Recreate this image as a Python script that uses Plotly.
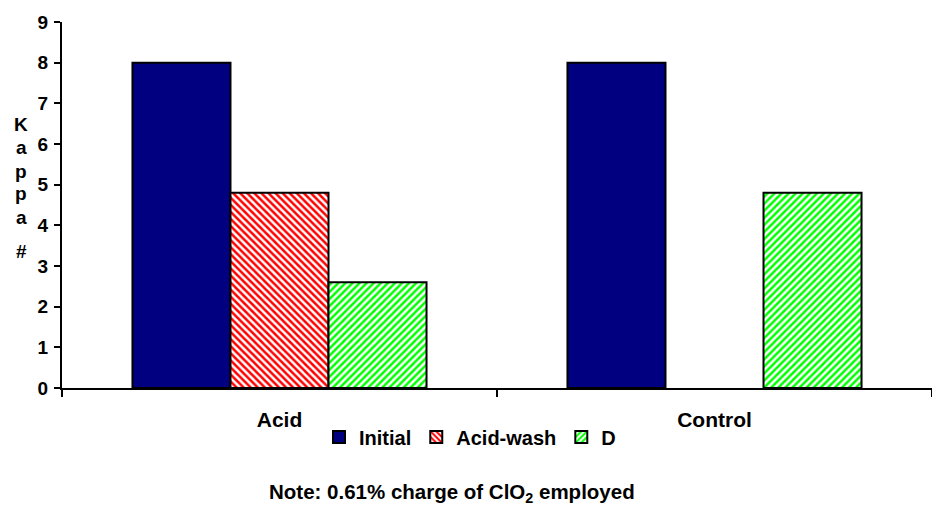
import plotly.graph_objects as go

# Kappa number by treatment
categories = ["Acid", "Control"]
initial = [8.0, 8.0]
acid_wash = [4.8, None]
d_stage = [2.6, 4.8]

y_ticks = list(range(0, 10))
axis_letters = ["K", "a", "p", "p", "a", "#"]
letter_y = [6.48, 5.92, 5.33, 4.79, 4.20, 3.36]

FONT = "Arial, Liberation Sans, sans-serif"


def bold(size):
    return dict(family=FONT, size=size, color="black", weight="bold")


fig = go.Figure()
fig.add_trace(go.Bar(
    name="Initial", x=categories, y=initial,
    marker=dict(color="#000080", line=dict(color="black", width=2)),
))
fig.add_trace(go.Bar(
    name="Acid-wash", x=categories, y=acid_wash,
    marker=dict(color="white", line=dict(color="black", width=2),
                pattern=dict(shape="\\", fgcolor="#FF0000", bgcolor="white",
                             size=5, solidity=0.5, fillmode="replace")),
))
fig.add_trace(go.Bar(
    name="D", x=categories, y=d_stage,
    marker=dict(color="white", line=dict(color="black", width=2),
                pattern=dict(shape="/", fgcolor="#00FF00", bgcolor="white",
                             size=5, solidity=0.5, fillmode="replace")),
))

# Vertical axis title, one letter per line
for ch, yv in zip(axis_letters, letter_y):
    fig.add_annotation(text=ch, xref="paper", yref="y", x=-0.047, y=yv,
                       showarrow=False, font=bold(19), xanchor="center", yanchor="middle")

fig.add_annotation(
    text="Note: 0.61% charge of ClO<sub>2</sub> employed",
    xref="paper", yref="paper", x=0.448, y=-0.287,
    showarrow=False, font=bold(20.5),
    xanchor="center", yanchor="middle",
)

fig.update_layout(
    width=932, height=506,
    margin=dict(l=62, r=0, t=22, b=118),
    paper_bgcolor="white", plot_bgcolor="white",
    barmode="group", bargap=0.324, bargroupgap=0,
    font=bold(19),
    legend=dict(orientation="h", x=0.469, y=-0.134, xanchor="center", yanchor="middle",
                font=bold(20), itemwidth=30, tracegroupgap=0, bgcolor="rgba(0,0,0,0)"),
    xaxis=dict(
        type="category", range=[-0.5, 1.5],
        showline=True, linecolor="black", linewidth=2,
        ticks="outside", tickson="boundaries", ticklen=7, tickwidth=2, tickcolor="black",
        ticklabelstandoff=12, tickfont=bold(21), showgrid=False, zeroline=False,
    ),
    yaxis=dict(
        range=[0, 9], tickvals=y_ticks,
        showline=True, linecolor="black", linewidth=2,
        ticks="outside", ticklen=6, tickwidth=2, tickcolor="black",
        ticklabelstandoff=2,
        tickfont=bold(19), showgrid=False, zeroline=False,
    ),
)

fig.write_html("out.html")
